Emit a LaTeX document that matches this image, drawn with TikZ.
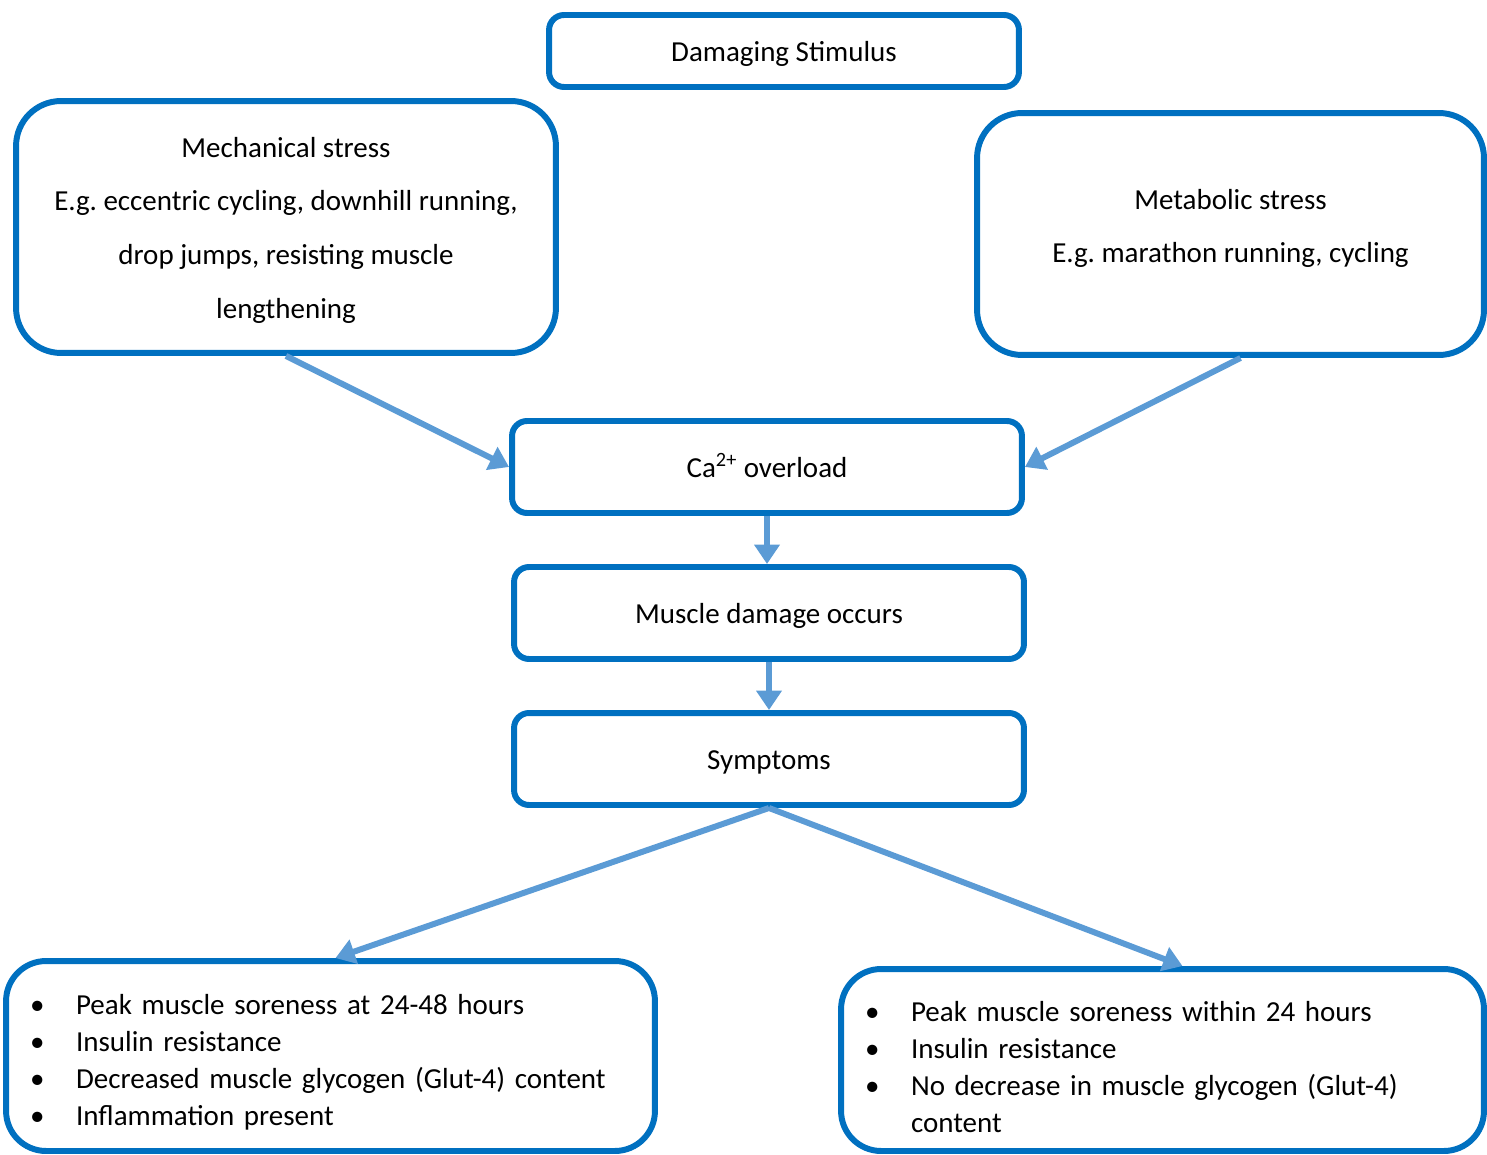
\documentclass[tikz,border=0pt]{standalone}
\usepackage{fontspec}
\setmainfont{Carlito}
\frenchspacing
\usetikzlibrary{arrows.meta}
\definecolor{boxblue}{HTML}{0070C0}
\definecolor{arrowblue}{HTML}{5B9BD5}
\newcommand{\blt}{\makebox[0.92cm][l]{\textbullet}}
\tikzset{
  stage/.style={draw=boxblue, line width=3.4pt, rounded corners=0.3cm, align=center,
    inner sep=0pt, font=\fontsize{16.5pt}{21pt}\selectfont},
  onestage/.style={stage, minimum width=10.2cm, minimum height=1.84cm, text height=13pt, text depth=1.5pt},
  bigstage/.style={stage, rounded corners=0.9cm, font=\fontsize{16.5pt}{30.6pt}\selectfont},
  liststage/.style={stage, rounded corners=0.8cm, align=left, inner xsep=0.48cm},
  flow/.style={draw=arrowblue, line width=3.4pt, -{Triangle[length=11pt,width=14pt]}}
}
\begin{document}
\begin{tikzpicture}[x=0.02cm, y=-0.02cm]
\useasboundingbox (0,0) rectangle (1487,1155);
% top row
\node[onestage, minimum width=9.4cm, minimum height=1.44cm] (stim) at (784,51) {Damaging Stimulus};
\node[bigstage, minimum width=10.8cm, minimum height=5.04cm] (mech) at (286,227)
  {\rule{0pt}{15pt}Mechanical stress\\E.g. eccentric cycling, downhill running,\\drop jumps, resisting muscle\\lengthening};
\node[bigstage, minimum width=10.14cm, minimum height=4.84cm] (metab) at (1230.5,234)
  {Metabolic stress\\E.g. marathon running, cycling\rule[-9.2pt]{0pt}{0pt}};
% middle column
\node[onestage] (ca) at (767,467) {Ca\textsuperscript{2+} overload};
\node[onestage] (dmg) at (769,613) {Muscle damage occurs};
\node[onestage] (sym) at (769,759) {Symptoms};
% outcomes
\node[liststage, text width=12.02cm, minimum height=3.8cm] (lft) at (330.5,1056)
  {\rule{0pt}{18.5pt}\blt Peak muscle soreness at 24-48 hours\\
   \blt Insulin resistance\\
   \blt Decreased muscle glycogen (Glut-4) content\\
   \blt Inflammation present};
\node[liststage, text width=11.9cm, minimum height=3.64cm] (rgt) at (1162.5,1060)
  {\rule{0pt}{19.6pt}\blt Peak muscle soreness within 24 hours\\
   \blt Insulin resistance\\
   \blt No decrease in muscle glycogen (Glut-4)\\
   \hspace*{0.92cm}content};
% connectors
\draw[flow] (mech.south) -- (ca.west);
\draw[flow] ([xshift=0.2cm]metab.south) -- (ca.east);
\draw[flow] (ca.south) -- (ca.south |- dmg.north);
\draw[flow] (dmg.south) -- (dmg.south |- sym.north);
\draw[flow] (sym.south) -- ([xshift=0.1cm]lft.north);
\draw[flow] (sym.south) -- ([xshift=0.4cm]rgt.north);
\end{tikzpicture}
\end{document}
